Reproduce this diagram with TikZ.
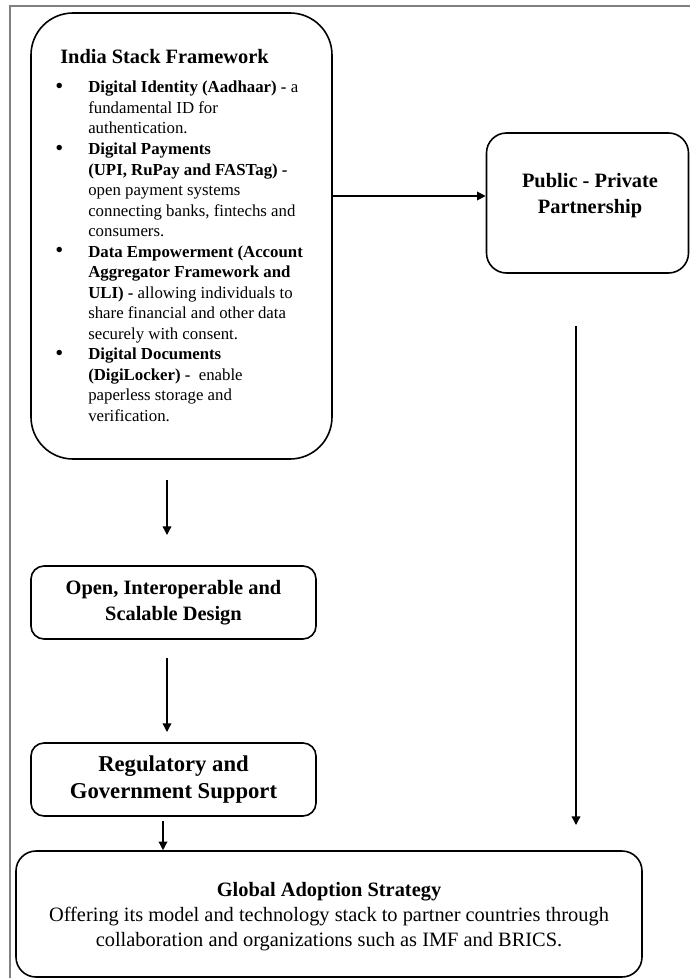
\documentclass[tikz,border=0pt]{standalone}
\usepackage{fontspec}
\setmainfont{Liberation Serif}
\usetikzlibrary{arrows.meta,positioning}
\newcommand{\stackitem}{\makebox[24.75pt][l]{\raisebox{-0.6pt}{\fontsize{17}{15.4}\selectfont\textbullet}}}
\newcommand{\stackcont}{\hspace*{24.75pt}}

\begin{document}
\begin{tikzpicture}[x = 0.75pt, y = -0.75pt,
	box/.style = {draw, line width = 1.2pt, align = center, inner sep = 0pt},
	arr/.style = {line width = 1pt, -{Triangle[length = 6.5pt, width = 6.5pt]}},
	head/.style = {font = \fontsize{15.3}{19.5}\selectfont\bfseries}]
	\useasboundingbox (0, 0) rectangle (689, 978);
	\draw[gray, line width = 1.5pt] (700, 6) -- (10, 6) -- (10, 990);

	\node[box, rounded corners = 31.5pt, minimum width = 225.75pt, minimum height = 334.5pt] (stack) at (181.5, 236) {};
	\node[head, anchor = base west, inner sep = 0pt] (stacktitle) at (60, 63) {India Stack Framework};
	\node[anchor = north west, inner sep = 0pt, align = left, font = \fontsize{12.6}{15.4}\selectfont] (stacklist) at (55, 81) {%
		\stackitem\textbf{Digital Identity (Aadhaar) -} a\\
		\stackcont fundamental ID for\\
		\stackcont authentication.\\
		\stackitem\textbf{Digital Payments}\\
		\stackcont\textbf{(UPI, RuPay and FASTag) -}\\
		\stackcont open payment systems\\
		\stackcont connecting banks, fintechs and\\
		\stackcont consumers.\\
		\stackitem\textbf{Data Empowerment (Account}\\
		\stackcont\textbf{Aggregator Framework and}\\
		\stackcont\textbf{ULI) -} allowing individuals to\\
		\stackcont share financial and other data\\
		\stackcont securely with consent.\\
		\stackitem\textbf{Digital Documents}\\
		\stackcont\textbf{(DigiLocker) -}\ \ enable\\
		\stackcont paperless storage and\\
		\stackcont verification.};

	\node[box, rounded corners = 15pt, minimum width = 151.5pt, minimum height = 105pt] (ppp) at (587.5, 203) {};
	\node[head, align = center, inner sep = 0pt] (ppptext) at (590, 196) {Public - Private\\Partnership};
	\node[box, head, rounded corners = 9.75pt, minimum width = 213.75pt, minimum height = 54.75pt] (open) at (173.5, 602.5) {Open, Interoperable and\\Scalable Design};
	\node[box, rounded corners = 9.75pt, minimum width = 213.75pt, minimum height = 54.75pt, font = \fontsize{17}{20.5}\selectfont\bfseries] (reg) at (173.5, 779.5) {Regulatory and\\Government Support};
	\node[box, rounded corners = 15pt, minimum width = 469.5pt, minimum height = 94.5pt] (global) at (329, 914) {};
	\node[align = center, inner sep = 0pt, font = \fontsize{15.3}{18.75}\selectfont] (globaltext) at (329, 917) {\textbf{Global Adoption Strategy}\\Offering its model and technology stack to partner countries through\\collaboration and organizations such as IMF and BRICS.};

	\coordinate (a1) at (167, 480);
	\coordinate (a2) at (167, 535);
	\coordinate (b1) at (167, 658);
	\coordinate (b2) at (167, 732);
	\coordinate (c1) at (163, 821);
	\coordinate (d1) at (576, 326);
	\coordinate (d2) at (576, 825);

	\draw[arr] (stack.east |- ppptext) -- (ppp.west |- ppptext);
	\draw[arr] (a1) -- (a2);
	\draw[arr] (b1) -- (b2);
	\draw[arr] (c1) -- (c1 |- global.north);
	\draw[arr] (d1) -- (d2);
\end{tikzpicture}
\end{document}
